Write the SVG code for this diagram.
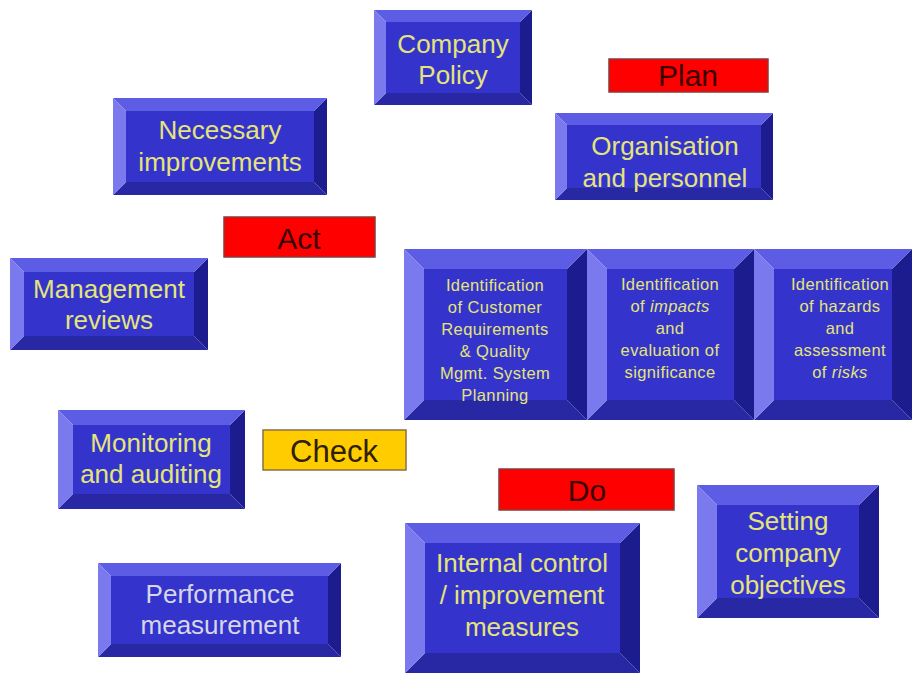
<svg xmlns="http://www.w3.org/2000/svg" width="912" height="673" viewBox="0 0 912 673">
<style>
.t{fill:#5c5ce4}.l{fill:#7a7aee}.r{fill:#1c1c8e}.b{fill:#2828a4}.f{fill:#3434cc}
.tx{font-family:"Liberation Sans",Arial,sans-serif;font-size:26px;fill:#e4e47a;text-anchor:middle}
.sm{font-family:"Liberation Sans",Arial,sans-serif;font-size:16.5px;fill:#e4e47a;text-anchor:middle;letter-spacing:0.4px}
.lb{font-family:"Liberation Sans",Arial,sans-serif;font-size:30px;fill:#3a0000;text-anchor:middle}
.red{fill:#ff0000;stroke:#8a3a3a;stroke-width:1.5}
.yel{fill:#ffcc00;stroke:#8a7040;stroke-width:1.5}
</style>
<rect width="912" height="673" fill="#ffffff"/>
<g id="connectors"/>

<g id="company-policy">
<polygon class="b" points="374,105 386,93 520,93 532,105"/>
<polygon class="r" points="532,10 532,105 520,93 520,22"/>
<polygon class="t" points="374,10 532,10 520,22 386,22"/>
<polygon class="l" points="374,10 386,22 386,93 374,105"/>
<rect class="f" x="386" y="22" width="134" height="71"/>
<text class="tx" x="453" y="53">Company</text>
<text class="tx" x="453" y="84">Policy</text>
</g>

<g id="necessary-improvements">
<polygon class="b" points="113,195 126,182 314,182 327,195"/>
<polygon class="r" points="327,98 327,195 314,182 314,111"/>
<polygon class="t" points="113,98 327,98 314,111 126,111"/>
<polygon class="l" points="113,98 126,111 126,182 113,195"/>
<rect class="f" x="126" y="111" width="188" height="71"/>
<text class="tx" x="220" y="139">Necessary</text>
<text class="tx" x="220" y="171">improvements</text>
</g>

<g id="organisation">
<polygon class="b" points="555,200 567,188 761,188 773,200"/>
<polygon class="r" points="773,113 773,200 761,188 761,125"/>
<polygon class="t" points="555,113 773,113 761,125 567,125"/>
<polygon class="l" points="555,113 567,125 567,188 555,200"/>
<rect class="f" x="567" y="125" width="194" height="63"/>
<text class="tx" x="665" y="155">Organisation</text>
<text class="tx" x="665" y="187">and personnel</text>
</g>

<g id="management-reviews">
<polygon class="b" points="10,350 24,336 194,336 208,350"/>
<polygon class="r" points="208,258 208,350 194,336 194,272"/>
<polygon class="t" points="10,258 208,258 194,272 24,272"/>
<polygon class="l" points="10,258 24,272 24,336 10,350"/>
<rect class="f" x="24" y="272" width="170" height="64"/>
<text class="tx" x="109" y="298">Management</text>
<text class="tx" x="109" y="329">reviews</text>
</g>

<g id="identification-quality">
<polygon class="b" points="404,420 424,400 567,400 587,420"/>
<polygon class="r" points="587,249 587,420 567,400 567,269"/>
<polygon class="t" points="404,249 587,249 567,269 424,269"/>
<polygon class="l" points="404,249 424,269 424,400 404,420"/>
<rect class="f" x="424" y="269" width="143" height="131"/>
<text class="sm" x="495" y="291">Identification</text>
<text class="sm" x="495" y="313">of Customer</text>
<text class="sm" x="495" y="335">Requirements</text>
<text class="sm" x="495" y="357">&amp; Quality</text>
<text class="sm" x="495" y="379">Mgmt. System</text>
<text class="sm" x="495" y="401">Planning</text>
</g>

<g id="identification-impacts">
<polygon class="b" points="587,420 607,400 734,400 754,420"/>
<polygon class="r" points="754,249 754,420 734,400 734,269"/>
<polygon class="t" points="587,249 754,249 734,269 607,269"/>
<polygon class="l" points="587,249 607,269 607,400 587,420"/>
<rect class="f" x="607" y="269" width="127" height="131"/>
<text class="sm" x="670" y="290">Identification</text>
<text class="sm" x="670" y="312">of <tspan font-style="italic">impacts</tspan></text>
<text class="sm" x="670" y="334">and</text>
<text class="sm" x="670" y="356">evaluation of</text>
<text class="sm" x="670" y="378">significance</text>
</g>

<g id="identification-hazards">
<polygon class="b" points="754,420 774,400 892,400 912,420"/>
<polygon class="r" points="912,249 912,420 892,400 892,269"/>
<polygon class="t" points="754,249 912,249 892,269 774,269"/>
<polygon class="l" points="754,249 774,269 774,400 754,420"/>
<rect class="f" x="774" y="269" width="118" height="131"/>
<text class="sm" x="840" y="290">Identification</text>
<text class="sm" x="840" y="312">of hazards</text>
<text class="sm" x="840" y="334">and</text>
<text class="sm" x="840" y="356">assessment</text>
<text class="sm" x="840" y="378">of <tspan font-style="italic">risks</tspan></text>
</g>

<g id="monitoring">
<polygon class="b" points="58,509 73,494 230,494 245,509"/>
<polygon class="r" points="245,410 245,509 230,494 230,425"/>
<polygon class="t" points="58,410 245,410 230,425 73,425"/>
<polygon class="l" points="58,410 73,425 73,494 58,509"/>
<rect class="f" x="73" y="425" width="157" height="69"/>
<text class="tx" x="151" y="452">Monitoring</text>
<text class="tx" x="151" y="483">and auditing</text>
</g>

<g id="performance">
<polygon class="b" points="98,657 111,644 328,644 341,657"/>
<polygon class="r" points="341,563 341,657 328,644 328,576"/>
<polygon class="t" points="98,563 341,563 328,576 111,576"/>
<polygon class="l" points="98,563 111,576 111,644 98,657"/>
<rect class="f" x="111" y="576" width="217" height="68"/>
<text class="tx" x="220" y="603" style="fill:#d6d6e6">Performance</text>
<text class="tx" x="220" y="634" style="fill:#d6d6e6">measurement</text>
</g>

<g id="internal-control">
<polygon class="b" points="405,673 425,653 620,653 640,673"/>
<polygon class="r" points="640,523 640,673 620,653 620,543"/>
<polygon class="t" points="405,523 640,523 620,543 425,543"/>
<polygon class="l" points="405,523 425,543 425,653 405,673"/>
<rect class="f" x="425" y="543" width="195" height="110"/>
<text class="tx" x="522" y="572">Internal control</text>
<text class="tx" x="522" y="604">/ improvement</text>
<text class="tx" x="522" y="636">measures</text>
</g>

<g id="setting-objectives">
<polygon class="b" points="697,618 717,598 859,598 879,618"/>
<polygon class="r" points="879,485 879,618 859,598 859,505"/>
<polygon class="t" points="697,485 879,485 859,505 717,505"/>
<polygon class="l" points="697,485 717,505 717,598 697,618"/>
<rect class="f" x="717" y="505" width="142" height="93"/>
<text class="tx" x="788" y="530">Setting</text>
<text class="tx" x="788" y="562">company</text>
<text class="tx" x="788" y="594">objectives</text>
</g>

<g id="label-plan">
<rect class="red" x="609" y="59" width="159" height="33"/>
<text class="lb" x="688" y="86">Plan</text>
</g>
<g id="label-act">
<rect class="red" x="224" y="217" width="151" height="40"/>
<text class="lb" x="299" y="249">Act</text>
</g>
<g id="label-check">
<rect class="yel" x="263" y="430" width="143" height="40"/>
<text class="lb" x="334" y="462" style="font-size:31px;fill:#2e2000">Check</text>
</g>
<g id="label-do">
<rect class="red" x="499" y="469" width="175" height="41"/>
<text class="lb" x="587" y="501">Do</text>
</g>
</svg>
